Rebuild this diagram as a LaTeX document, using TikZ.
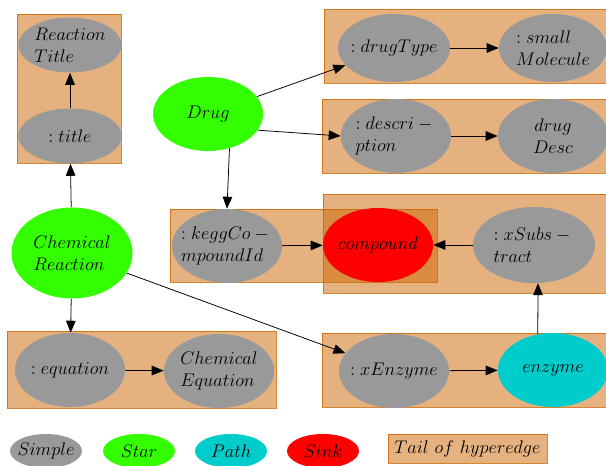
\RequirePackage{fix-cm}
\documentclass[tikz,border=0pt]{standalone}
\usetikzlibrary{arrows.meta,shapes.geometric}
\definecolor{simplegray}{RGB}{153,153,153}
\definecolor{stargreen}{RGB}{51,255,0}
\definecolor{pathcyan}{RGB}{0,204,204}
\definecolor{sinkred}{RGB}{255,0,0}
\definecolor{tailorange}{RGB}{204,102,0}

\begin{document}
\begin{tikzpicture}[
  x=0.025cm, y=-0.025cm,
  font=\fontsize{13}{15.6}\selectfont,
  nd/.style={ellipse, inner sep=-6pt, align=left,
             minimum width=2.75cm, minimum height=1.85cm},
  simple/.style={nd, fill=simplegray},
  starnd/.style={nd, fill=stargreen},
  pathnd/.style={nd, fill=pathcyan},
  sinknd/.style={nd, fill=sinkred},
  tail/.style={draw=tailorange, draw opacity=0.8, fill=tailorange,
               fill opacity=0.5, text opacity=1},
  leg/.style={minimum width=1.8cm, minimum height=0.85cm},
  ar/.style={-{Triangle[length=3mm,width=2.4mm]}, line width=0.55pt}
]
\useasboundingbox (0,0) rectangle (606,466);

% tails of hyperedges
\draw[tail] (17,14)   rectangle (121,163);
\draw[tail] (324,9)   rectangle (608,83);
\draw[tail] (322,99)  rectangle (608,173);
\draw[tail] (170,209) rectangle (437,282);
\draw[tail] (323,194) rectangle (608,293);
\draw[tail] (322,333) rectangle (608,407);
\draw[tail] (7,331)   rectangle (276,408);

% chemical reaction
\node[starnd, minimum width=3.025cm, minimum height=2.275cm] (creact) at (72,253) {$Chemical$\\$Reaction$};
\node[simple, minimum width=2.575cm, minimum height=1.375cm] (title) at (70,136) {$:title$};
\node[simple, minimum width=2.575cm, minimum height=1.375cm] (rtitle) at (70,45) {$Reaction$\\$Title$};
\node[simple] (equation) at (70,370)  {$:equation$};
\node[simple] (chemeq)   at (219,371) {$Chemical$\\$Equation$};
\node[simple] (xenz)     at (394,371) {$:xEnzyme$};
\node[pathnd] (enzyme)   at (553,370) {$enzyme$};
\node[simple, minimum width=3.05cm, minimum height=1.9cm] (xsubs) at (534,245) {$:xSubs-{}$\\$tract$};
\node[sinknd] (compound) at (378,245) {$compound$};

% drug
\node[starnd] (drug) at (208,114) {$Drug$};
\node[simple, minimum width=2.8cm, minimum height=1.7cm] (drugtype) at (394,48) {$:drugType$};
\node[simple, minimum width=2.7cm, minimum height=1.7cm] (smallmol) at (553,48) {$:small$\\$Molecule$};
\node[simple] (descr) at (396,136) {$:descri-{}$\\$ption$};
\node[simple, align=center] (drugdesc) at (553,136) {$drug$\\$Desc$};
\node[simple] (kegg) at (227,246) {$:keggCo-{}$\\$mpoundId$};

\draw[ar] (creact) -- (title);
\draw[ar] (title) -- (rtitle);
\draw[ar] (creact) -- (equation);
\draw[ar] (equation) -- (chemeq);
\draw[ar] (creact) -- (xenz);
\draw[ar] (xenz) -- (enzyme);
\draw[ar] (enzyme.113) -- (xsubs.-84);
\draw[ar] (xsubs) -- (compound);
\draw[ar] (drug) -- (drugtype);
\draw[ar] (drugtype) -- (smallmol);
\draw[ar] (drug.-18) -- (descr.west);
\draw[ar] (descr) -- (drugdesc);
\draw[ar] (drug.-58) -- (kegg.north);
\draw[ar] (kegg) -- (compound);

% legend
\node[simple, leg] (lsimple) at (46,451)  {$Simple$};
\node[starnd, leg] (lstar)   at (139,451) {$Star$};
\node[pathnd, leg] (lpath)   at (231,451) {$Path$};
\node[sinknd, leg] (lsink)   at (323,451) {$Sink$};
\node[tail, minimum width=3.975cm, minimum height=0.725cm] (ltail) at (467.5,448.5) {$Tail\ of\ hyperedge$};
\end{tikzpicture}
\end{document}
